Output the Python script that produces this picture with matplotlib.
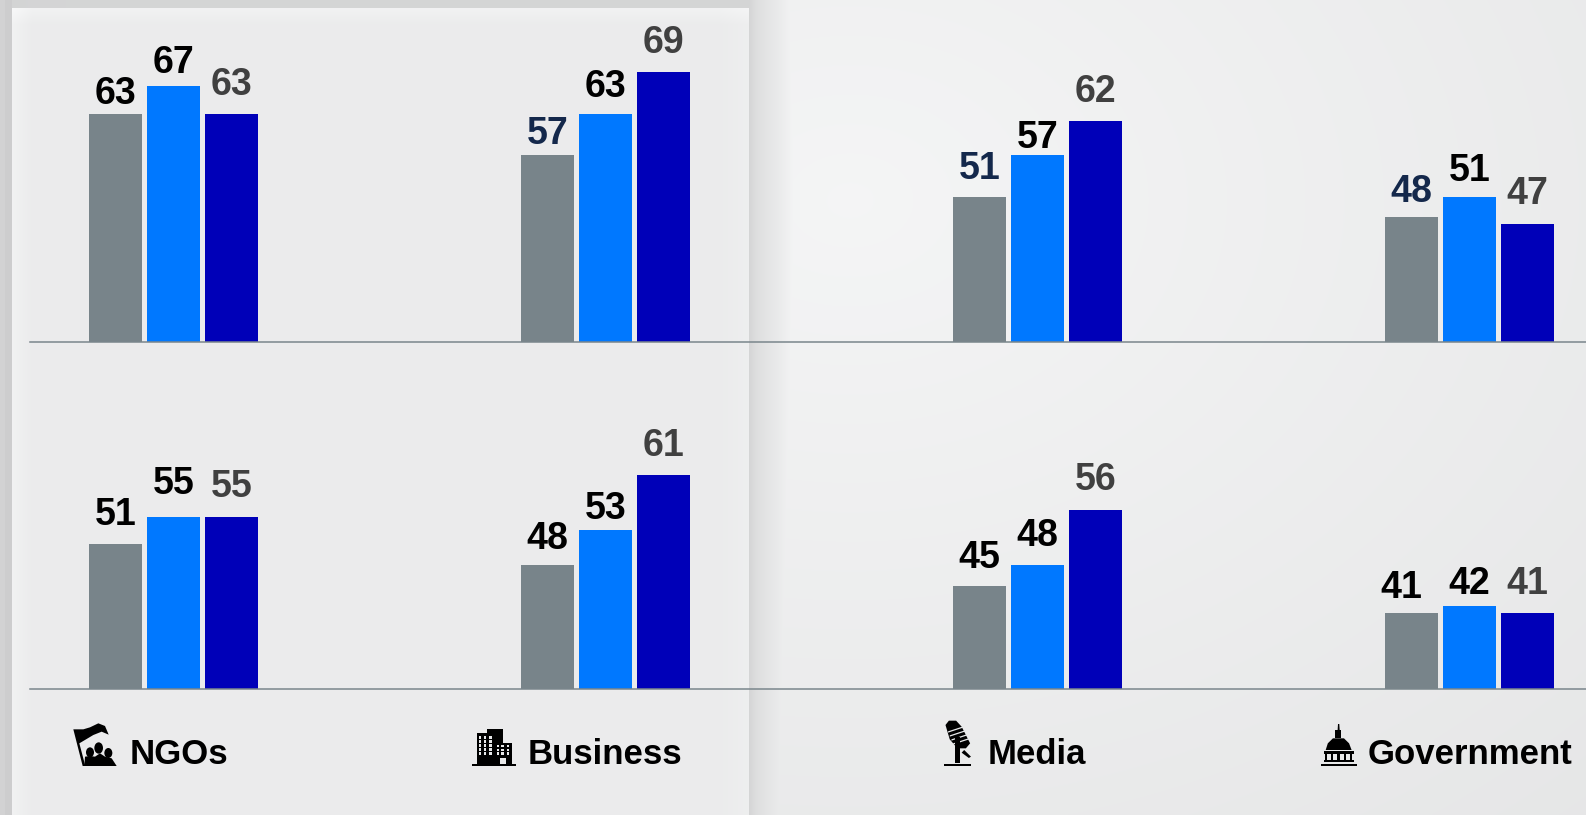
import numpy as np
import matplotlib
matplotlib.use("Agg")
import matplotlib.pyplot as plt
from matplotlib.patches import Polygon, Rectangle, Ellipse

plt.rcParams['font.family'] = ['Liberation Sans', 'DejaVu Sans']

groups = ["NGOs", "Business", "Media", "Government"]
top_values = [[63, 57, 51, 48], [67, 63, 57, 51], [63, 69, 62, 47]]
bottom_values = [[51, 48, 45, 41], [55, 53, 48, 42], [55, 61, 56, 41]]

# label gap above each bar, pixels
top_gaps = [[10, 11, 17, 15], [13, 17, 7, 15], [19, 19, 19, 20]]
bottom_gaps = [[19, 16, 17, 15], [22, 11, 19, 12], [19, 19, 19, 19]]
top_label_colors = [["#000000", "#14284b", "#14284b", "#14284b"],
                    ["#000000"] * 4, ["#404040"] * 4]
bottom_label_colors = [["#000000"] * 4, ["#000000"] * 4, ["#404040"] * 4]
bar_colors = ["#78848a", "#0078ff", "#0000b8"]

W, H = 1586, 815
PX_PER_UNIT = 6.9
BASE = 30

fig = plt.figure(figsize=(W / 100, H / 100), dpi=100)

# backdrop: soft radial light, panel on the left with a shadow around it
yy, xx = np.mgrid[0:H, 0:W]
bg = 0.958 - 0.04 * np.hypot((xx - 850) / 800, (yy - 200) / 600)
right_shadow = np.interp(xx, [749, 756, 767, 777, 795], [0.835, 0.87, 0.895, 0.915, 0.96])
bg = np.minimum(bg, right_shadow)
top_shadow = np.interp(xx, [0, 700, 750, 790], [0.83, 0.865, 0.895, 1.0])
bg[:8] = np.minimum(bg, top_shadow)[:8]
panel = (0.922 + 0.025 * np.clip(1 - (xx - 12) / 20, 0, 1)
         + 0.025 * np.clip(1 - (yy - 8) / 16, 0, 1)
         + 0.012 * np.clip(1 - (749 - xx) / 30, 0, 1))
bg[8:, 12:749] = panel[8:, 12:749]
bg[:, :5] = 0.825
bg[:, 5:12] = 0.805
rgb = np.dstack([bg, bg + 0.002, bg + 0.004]).clip(0, 1)
bg_ax = fig.add_axes([0, 0, 1, 1], zorder=0)
bg_ax.imshow(rgb, aspect="auto", interpolation="nearest")
bg_ax.axis("off")


def draw_row(y_top, y_base, values, gaps, colors):
    ax = fig.add_axes([30 / W, 1 - y_base / H, (W - 30) / W, (y_base - y_top) / H], zorder=1)
    ax.patch.set_alpha(0)
    ax.set_xlim((30 - 173.5) / 432, (W - 173.5) / 432)
    ax.set_ylim(BASE, BASE + (y_base - y_top) / PX_PER_UNIT)
    for i in range(3):
        xs = np.arange(len(groups)) + (i - 1) * 58 / 432
        ax.bar(xs, values[i], width=53 / 432, color=bar_colors[i], bottom=0)
        for j, v in enumerate(values[i]):
            dx = -10 if (v == 41 and i == 0) else 0
            ax.annotate(str(v), (xs[j], v), xytext=(dx, gaps[i][j] * 1.01), textcoords="offset pixels",
                        ha="center", va="baseline", fontsize=27, fontweight="bold", color=colors[i][j])
    for s in ["top", "left", "right"]:
        ax.spines[s].set_visible(False)
    ax.spines["bottom"].set_color("#7a868c")
    ax.spines["bottom"].set_linewidth(1.1)
    ax.set_xticks([])
    ax.set_yticks([])


draw_row(0, 341.5, top_values, top_gaps, top_label_colors)
draw_row(345, 689, bottom_values, bottom_gaps, bottom_label_colors)

# overlay in pixel coordinates for category names and icons
ov = fig.add_axes([0, 0, 1, 1], zorder=2)
ov.set_xlim(0, W)
ov.set_ylim(H, 0)
ov.axis("off")

for name, x in zip(groups, [130, 528, 988, 1368]):
    ov.text(x, 764, name, fontsize=25, fontweight="bold", color="#000000", ha="left", va="baseline")


def poly(pts, ox, oy, sx, sy, color="black"):
    ov.add_patch(Polygon([(ox + a / sx, oy + b / sy) for a, b in pts], closed=True, fc=color, ec="none"))


def rect(x0, y0, x1, y1, ox, oy, sx, sy, color="black"):
    ov.add_patch(Rectangle((ox + x0 / sx, oy + y0 / sy), (x1 - x0) / sx, (y1 - y0) / sy, fc=color, ec="none"))


def oval(cx, cy, w, h, ox, oy, sx, sy, angle=0, color="black"):
    ov.add_patch(Ellipse((ox + cx / sx, oy + cy / sy), w / sx, h / sy, angle=angle, fc=color, ec="none"))


# flag and people
o = (40, 690, 3, 3)
poly([(100, 118), (130, 118), (150, 112), (175, 100), (195, 108), (206, 134), (185, 125), (160, 135), (118, 160),
      (136, 228), (128, 228)], *o)
poly([(133, 228), (135, 200), (150, 198), (165, 200), (180, 190), (195, 200), (215, 205), (230, 228)], *o)
oval(150, 187, 24, 30, *o)
oval(176, 174, 26, 34, *o)
oval(205, 189, 24, 30, *o)

# office buildings
o = (450, 700, 3, 3)
rect(67, 192, 198, 198, *o)
rect(80, 100, 112, 192, *o)
rect(112, 87, 160, 192, *o)
rect(138, 128, 186, 192, *o)
for cx in [90, 106, 122]:
    for cy in [112, 124, 136, 148, 160]:
        rect(cx - 4, cy - 4, cx + 3, cy + 4, *o, color="#e8e9ea")
for cx in [144, 158, 174]:
    for cy in [138, 150, 160]:
        rect(cx - 4, cy - 4, cx + 3, cy + 4, *o, color="#e8e9ea")
rect(151, 173, 167, 192, *o, color="#e8e9ea")

# microphone
o = (920, 700, 2.354, 3)
poly([(60, 75), (68, 62), (85, 62), (98, 80), (118, 130), (108, 145), (88, 145), (70, 118)], *o)
for cy, cx in [(88, 88), (100, 92), (112, 96), (124, 100)]:
    poly([(cx - 22, cy + 6), (cx + 16, cy - 10), (cx + 16, cy - 6), (cx - 22, cy + 10)], *o, color="#e8e9ea")
rect(83, 110, 95, 190, *o)
rect(57, 191, 120, 197, *o)
poly([(104, 150), (120, 170), (115, 174), (98, 158)], *o)

# capitol dome
rect(943, 191, 1028, 197, *o)
rect(950, 181, 1022, 186, *o)
rect(950, 152, 1022, 162, *o)
for cx in [956, 970, 985, 1000, 1015]:
    rect(cx - 3, 162, cx + 3, 182, *o)
poly([(955, 150), (960, 130), (972, 115), (998, 115), (1010, 130), (1016, 150)], *o)
rect(978, 90, 992, 115, *o)
poly([(984, 72), (987, 72), (988, 92), (983, 92)], *o)

fig.savefig("out.png", dpi=100)
